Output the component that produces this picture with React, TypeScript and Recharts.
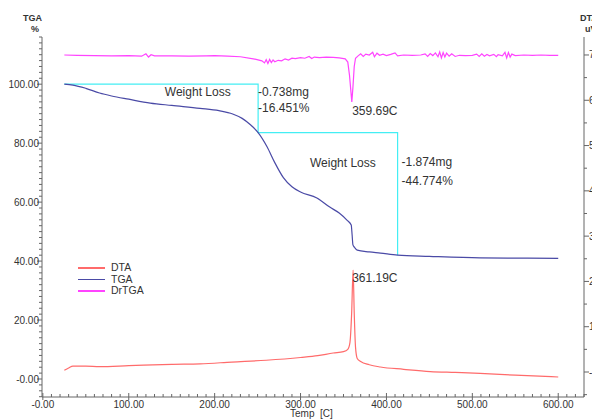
import React from 'react';
import { ComposedChart, Line, XAxis, YAxis, ReferenceDot } from 'recharts';

// [temperature C, value]
const tgaData: [number, number][] = [
  [25, 100], [35, 99.7], [50, 98.6], [66, 97.0], [80, 96.0], [100, 94.9], [125, 93.6],
  [150, 92.8], [183, 91.8], [205, 91.0], [221, 89.9], [232, 88.4], [241, 86.4], [250.6, 83.6],
  [261, 78.8], [270, 73.4], [280, 68.3], [290, 65.2], [300, 63.4], [319, 61.4], [334, 58.3],
  [345, 56.3], [354, 53.9], [359, 52.2], [360, 49.0], [361, 45.5], [363, 44.6], [366, 43.7],
  [380, 43.1], [393, 42.7], [413, 42.0], [450, 41.6], [509, 41.1], [560, 41.0], [600, 40.9],
];

const dtaData: [number, number][] = [
  [25, 0.4], [30, 0.9], [35, 1.3], [50, 1.3], [66, 1.2], [100, 1.4], [150, 1.7], [183, 1.8],
  [220, 2.2], [260, 2.6], [300, 3.2], [320, 3.6], [338, 4.2], [350, 4.5], [355, 5.0],
  [357.5, 6.5], [359.5, 13], [361.19, 22.5], [362.5, 13], [364, 5.5], [366, 3.0], [370, 2.3],
  [380, 1.6], [393, 1.1], [420, 0.6], [451, 0.1], [480, -0.1], [509, -0.3], [550, -0.7], [600, -1.1],
];

const drtgaData: [number, number][] = [
  [25, 109.9], [40, 109.8], [60, 109.7], [80, 109.6], [100, 109.7], [115, 109.5], [120, 110.3],
  [123, 109.2], [126, 110.0], [130, 109.6], [150, 109.6], [170, 109.5], [190, 109.6], [200, 109.7],
  [215, 109.5], [230, 109.3], [245, 108.6], [255, 107.9], [258, 107.2], [260, 108.3], [262, 107.0],
  [264, 108.4], [266, 107.3], [268, 108.2], [270, 107.6], [274, 108.1], [278, 107.9], [282, 108.6],
  [286, 108.2], [290, 108.8], [294, 108.7], [300, 109.0], [305, 108.8], [310, 109.4], [313, 108.7],
  [316, 109.2], [322, 109.0], [330, 109.2], [338, 109.1], [345, 108.9], [352, 108.6], [355, 107.5],
  [357, 103.0], [359.69, 94.0], [361, 99.0], [362.5, 106.0], [364, 108.8], [367, 109.6], [370, 110.3],
  [373, 109.4], [376, 110.2], [380, 109.9], [384, 110.8], [386, 109.3], [389, 110.5], [392, 109.8],
  [396, 110.2], [400, 109.7], [405, 110.1], [410, 110.6], [413, 109.6], [420, 109.9], [430, 109.8],
  [440, 109.9], [445, 110.3], [448, 109.4], [451, 110.4], [454, 109.7], [457, 110.6], [460, 109.3],
  [462, 110.9], [464, 108.9], [466, 110.7], [468, 109.2], [470, 110.5], [473, 109.5], [476, 110.3],
  [480, 109.4], [485, 109.8], [492, 109.7], [500, 109.8], [505, 110.2], [508, 109.4], [511, 110.3],
  [514, 109.5], [517, 110.1], [520, 109.6], [525, 110.1], [528, 109.3], [530, 110.0], [535, 109.6],
  [538, 110.8], [540, 108.9], [542, 110.7], [544, 109.2], [546, 110.2], [550, 109.7], [560, 109.9],
  [570, 109.8], [580, 109.9], [590, 109.8], [600, 109.8],
];

// weight loss step markers (cyan)
const stepData: [number, number][] = [
  [25, 100], [250.6, 100], [250.6, 83.6], [413, 83.6], [413, 42.0],
];

const xMajor = [0, 100, 200, 300, 400, 500, 600];
const leftMajor = [0, 20, 40, 60, 80, 100];
const rightMajor = [0, 10, 20, 30, 40, 50, 60, 70];

// [temp, value, text, axis]
const notes: [number, number, string, string][] = [
  [142, 95.9, 'Weight Loss', 'left'],
  [250.6, 95.9, '-0.738mg', 'left'],
  [250.6, 90.5, '-16.451%', 'left'],
  [360.1, 89.5, '359.69C', 'left'],
  [311, 71.9, 'Weight Loss', 'left'],
  [417.5, 72.3, '-1.874mg', 'left'],
  [417.5, 65.9, '-44.774%', 'left'],
  [360.1, 32.9, '361.19C', 'left'],
];

const legendItems = [
  { name: 'DTA', color: '#ff6b6b' },
  { name: 'TGA', color: '#4a4aa6' },
  { name: 'DrTGA', color: '#ff44ff' },
];

const toPoints = (rows: [number, number][]) => rows.map(([t, v]) => ({ t, v }));

const font = '"Liberation Sans", Arial, sans-serif';
const axisColor = '#666';
const textColor = '#333';

const steps = (from: number, to: number, step: number) => {
  const out: number[] = [];
  for (let v = from; v <= to + 1e-9; v += step) out.push(Math.round(v * 100) / 100);
  return out;
};

const fmt = (v: number) => (v === 0 ? '-0.00' : v.toFixed(2));

const LeftTick = (props: any) => {
  const { x, y, payload } = props;
  const major = leftMajor.includes(payload.value);
  return (
    <g>
      <line x1={x - (major ? 5 : 3)} x2={x} y1={y} y2={y} stroke={axisColor} />
      {major && (
        <text x={x - 3} y={y + 3.5} textAnchor="end" fontSize={10} fill={textColor} fontFamily={font}>
          {fmt(payload.value)}
        </text>
      )}
    </g>
  );
};

const RightTick = (props: any) => {
  const { x, y, payload } = props;
  const major = rightMajor.includes(payload.value);
  return (
    <g>
      <line x1={x} x2={x + (major ? 5 : 3)} y1={y} y2={y} stroke={axisColor} />
      {major && (
        <text x={x + 5} y={y + 3.5} textAnchor="start" fontSize={10} fill={textColor} fontFamily={font}>
          {fmt(payload.value)}
        </text>
      )}
    </g>
  );
};

const BottomTick = (props: any) => {
  const { x, y, payload } = props;
  const major = xMajor.includes(payload.value);
  return (
    <g>
      <line x1={x} x2={x} y1={y - (major ? 4 : 3)} y2={y + (major ? 3 : 0)} stroke={axisColor} />
      {major && (
        <text x={x} y={y + 10.5} textAnchor="middle" fontSize={10} fill={textColor} fontFamily={font}>
          {fmt(payload.value)}
        </text>
      )}
    </g>
  );
};

export default function App() {
  return (
    <div style={{ position: 'absolute', left: 0, top: 0, width: 592, height: 419, overflow: 'hidden', background: '#fff', fontFamily: font }}>
      <ComposedChart width={640} height={430} margin={{ top: 37, right: 6, left: 0, bottom: 0 }}>
        <XAxis
          dataKey="t"
          type="number"
          domain={[-1, 630]}
          allowDataOverflow
          ticks={steps(0, 630, 10)}
          interval={0}
          tick={<BottomTick />}
          tickLine={false}
          tickSize={0}
          tickMargin={0}
          height={33}
          axisLine={{ stroke: axisColor }}
        />
        <XAxis
          xAxisId="top"
          orientation="top"
          type="number"
          domain={[-1, 630]}
          height={0}
          tick={false}
          tickLine={false}
          axisLine={{ stroke: axisColor }}
        />
        <YAxis
          yAxisId="left"
          type="number"
          domain={[-6.1, 116]}
          allowDataOverflow
          ticks={steps(-6, 116, 2)}
          interval={0}
          tick={<LeftTick />}
          tickLine={false}
          tickSize={0}
          tickMargin={0}
          width={42}
          axisLine={{ stroke: axisColor }}
        />
        <YAxis
          yAxisId="right"
          orientation="right"
          type="number"
          domain={[-5.52, 73.97]}
          allowDataOverflow
          ticks={steps(-5, 70, 5)}
          interval={0}
          tick={<RightTick />}
          tickLine={false}
          tickSize={0}
          tickMargin={0}
          width={50}
          axisLine={{ stroke: axisColor }}
        />
        <Line data={toPoints(stepData)} yAxisId="left" dataKey="v" type="linear" stroke="#44eef4" strokeWidth={1.2} dot={false} activeDot={false} isAnimationActive={false} />
        <Line data={toPoints(drtgaData)} yAxisId="left" dataKey="v" type="linear" stroke="#ff44ff" strokeWidth={1.2} dot={false} activeDot={false} isAnimationActive={false} />
        <Line data={toPoints(tgaData)} yAxisId="left" dataKey="v" type="monotone" stroke="#4a4aa6" strokeWidth={1.2} dot={false} activeDot={false} isAnimationActive={false} />
        <Line data={toPoints(dtaData)} yAxisId="right" dataKey="v" type="monotone" stroke="#ff6b6b" strokeWidth={1.2} dot={false} activeDot={false} isAnimationActive={false} />
        {notes.map(([t, v, text, axis], i) => (
          <ReferenceDot
            key={i}
            x={t}
            y={v}
            yAxisId={axis}
            r={1}
            shape={(p: any) => (
              <text x={p.cx} y={p.cy} fontSize={12} fill={textColor} fontFamily={font}>
                {text}
              </text>
            )}
          />
        ))}
      </ComposedChart>

      {/* axis titles */}
      <div style={{ position: 'absolute', left: 23, top: 13, fontSize: 9, color: textColor, fontWeight: 'bold' }}>TGA</div>
      <div style={{ position: 'absolute', left: 31, top: 24, fontSize: 9, color: textColor, fontWeight: 'bold' }}>%</div>
      <div style={{ position: 'absolute', left: 580, top: 13, fontSize: 9, color: textColor, fontWeight: 'bold' }}>DTA</div>
      <div style={{ position: 'absolute', left: 585, top: 24, fontSize: 9, color: textColor, fontWeight: 'bold' }}>uV</div>
      <div style={{ position: 'absolute', left: 290, top: 409, fontSize: 10, lineHeight: '10px', color: textColor }}>Temp&nbsp;&nbsp;[C]</div>

      {/* legend */}
      <div style={{ position: 'absolute', left: 78, top: 262 }}>
        {legendItems.map((it) => (
          <div key={it.name} style={{ display: 'flex', alignItems: 'center', height: 11.5 }}>
            <div style={{ width: 27, height: 1.5, background: it.color, marginRight: 6 }} />
            <span style={{ fontSize: 10.5, color: textColor, lineHeight: '11px' }}>{it.name}</span>
          </div>
        ))}
      </div>
    </div>
  );
}
